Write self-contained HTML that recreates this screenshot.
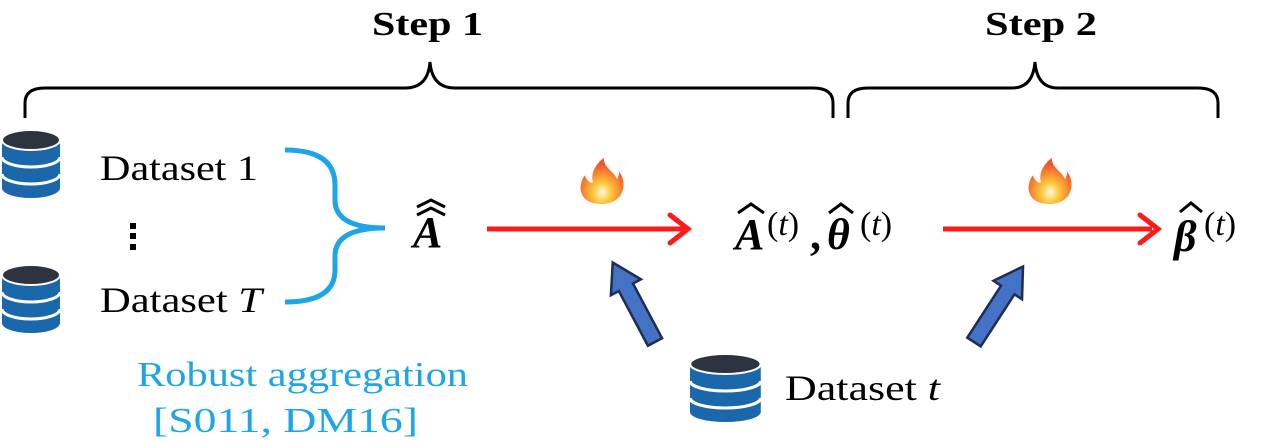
<!DOCTYPE html>
<html><head><meta charset="utf-8"><style>
html,body{margin:0;padding:0;background:#fff}
svg{display:block}
.serif{font-family:"Liberation Serif",serif}
</style></head><body>
<svg width="1266" height="446" viewBox="0 0 1266 446">
<defs>
<g id="db">
<path d="M0,12 L0,60 A29,10 0 0 0 58,60 L58,12 Z" fill="#1a67ac"/>
<path d="M0,29 A29,10 0 0 0 58,29 M0,46 A29,10 0 0 0 58,46" stroke="#fff" stroke-width="3" fill="none"/>
<ellipse cx="29" cy="12" rx="29" ry="10" fill="#2d3440" stroke="#fff" stroke-width="2"/>
</g>
<g id="blue-arrow"><polygon points="-8,0 8,0 8,-62 17,-62 0,-90 -17,-62 -8,-62" fill="#4472c4" stroke="#1f2d50" stroke-width="2.5" stroke-linejoin="miter"/></g>
<radialGradient id="fire" cx="0.5" cy="0.75" r="0.6"><stop offset="0" stop-color="#fffbe0"/><stop offset="0.35" stop-color="#ffc83a"/><stop offset="1" stop-color="#f2552c"/></radialGradient>
<g id="flame"><path d="M0,20 C-16,20 -18,4 -12,-6 C-10,0 -7,2 -6,0 C-8,-10 -2,-18 2,-22 C2,-12 10,-10 12,-2 C13,-6 14,-8 13,-10 C20,0 18,20 0,20 Z" fill="url(#fire)"/></g>
</defs>

<text class="serif" x="372" y="35" font-size="34" font-weight="bold" textLength="111" lengthAdjust="spacingAndGlyphs">Step 1</text>
<text class="serif" x="985" y="35" font-size="34" font-weight="bold" textLength="112" lengthAdjust="spacingAndGlyphs">Step 2</text>

<path d="M25,118 L25,103 Q25,88 45,88 L405,88 Q428,88 430,62 Q432,88 455,88 L813,88 Q833,88 833,103 L833,118" fill="none" stroke="#000" stroke-width="3"/>
<path d="M848,118 L848,103 Q848,88 868,88 L1012,88 Q1033,88 1035,62 Q1037,88 1058,88 L1198,88 Q1218,88 1218,103 L1218,118" fill="none" stroke="#000" stroke-width="3"/>

<use href="#db" x="2" y="128"/>
<use href="#db" x="2" y="263"/>
<text class="serif" x="100" y="180" font-size="36" textLength="158" lengthAdjust="spacingAndGlyphs">Dataset 1</text>
<g fill="#000">
<rect x="130" y="223" width="6" height="6"/><rect x="130" y="233" width="6" height="6"/><rect x="130" y="244" width="6" height="6"/></g>
<text class="serif" x="100" y="312" font-size="36" textLength="162" lengthAdjust="spacingAndGlyphs">Dataset <tspan font-style="italic">T</tspan></text>

<path d="M285,150 Q335,150 335,185 L335,200 Q335,228 385,228 Q335,228 335,256 L335,270 Q335,302 285,302" fill="none" stroke="#1ea5e6" stroke-width="5"/>

<text class="serif" x="137" y="386" font-size="35" fill="#1ea5e6" textLength="331" lengthAdjust="spacingAndGlyphs">Robust aggregation</text>
<text class="serif" x="153" y="432" font-size="35" fill="#1ea5e6" textLength="265" lengthAdjust="spacingAndGlyphs">[S011, DM16]</text>

<g>
<text class="serif" x="413" y="247" font-size="44" font-weight="bold" font-style="italic">A</text>
<path d="M417,207 L431,200 L445,207 M417,215 L431,208 L445,215" fill="none" stroke="#000" stroke-width="3"/>
</g>

<g>
<line x1="487" y1="229" x2="684" y2="229" stroke="#ff1a1a" stroke-width="5"/>
<path d="M670,215 L688,229 L670,243" fill="none" stroke="#ff1a1a" stroke-width="5" stroke-linecap="round"/>
</g>
<use href="#flame" transform="translate(601,182) scale(1.35,1.1)"/>

<g>
<text class="serif" x="735" y="249" font-size="44" font-weight="bold" font-style="italic">A</text>
<path d="M738,213 L751,204 L764,213" fill="none" stroke="#000" stroke-width="3"/>
<text class="serif" x="767" y="235" font-size="34">(<tspan font-style="italic">t</tspan>)</text>
<text class="serif" x="810" y="249" font-size="44" font-weight="bold">,</text>
<text class="serif" x="827" y="249" font-size="44" font-weight="bold" font-style="italic">θ</text>
<path d="M829,213 L841,204 L853,213" fill="none" stroke="#000" stroke-width="3"/>
<text class="serif" x="860" y="235" font-size="34">(<tspan font-style="italic">t</tspan>)</text>
</g>

<g>
<line x1="943" y1="229" x2="1152" y2="229" stroke="#ff1a1a" stroke-width="5"/>
<path d="M1140,215 L1158,229 L1140,243" fill="none" stroke="#ff1a1a" stroke-width="5" stroke-linecap="round"/>
</g>
<use href="#flame" transform="translate(1049,182) scale(1.35,1.1)"/>

<g>
<text class="serif" x="1174" y="251" font-size="44" font-weight="bold" font-style="italic">β</text>
<path d="M1180,212 L1191,203 L1202,212" fill="none" stroke="#000" stroke-width="3"/>
<text class="serif" x="1204" y="235" font-size="34">(<tspan font-style="italic">t</tspan>)</text>
</g>

<use href="#blue-arrow" transform="translate(655,342) rotate(-28)"/>
<use href="#blue-arrow" transform="translate(974,342) rotate(33)"/>

<use href="#db" transform="translate(690,352) scale(1.22,1.0)"/>
<text class="serif" x="785" y="400" font-size="36" textLength="155" lengthAdjust="spacingAndGlyphs">Dataset <tspan font-style="italic">t</tspan></text>
</svg>
</body></html>
